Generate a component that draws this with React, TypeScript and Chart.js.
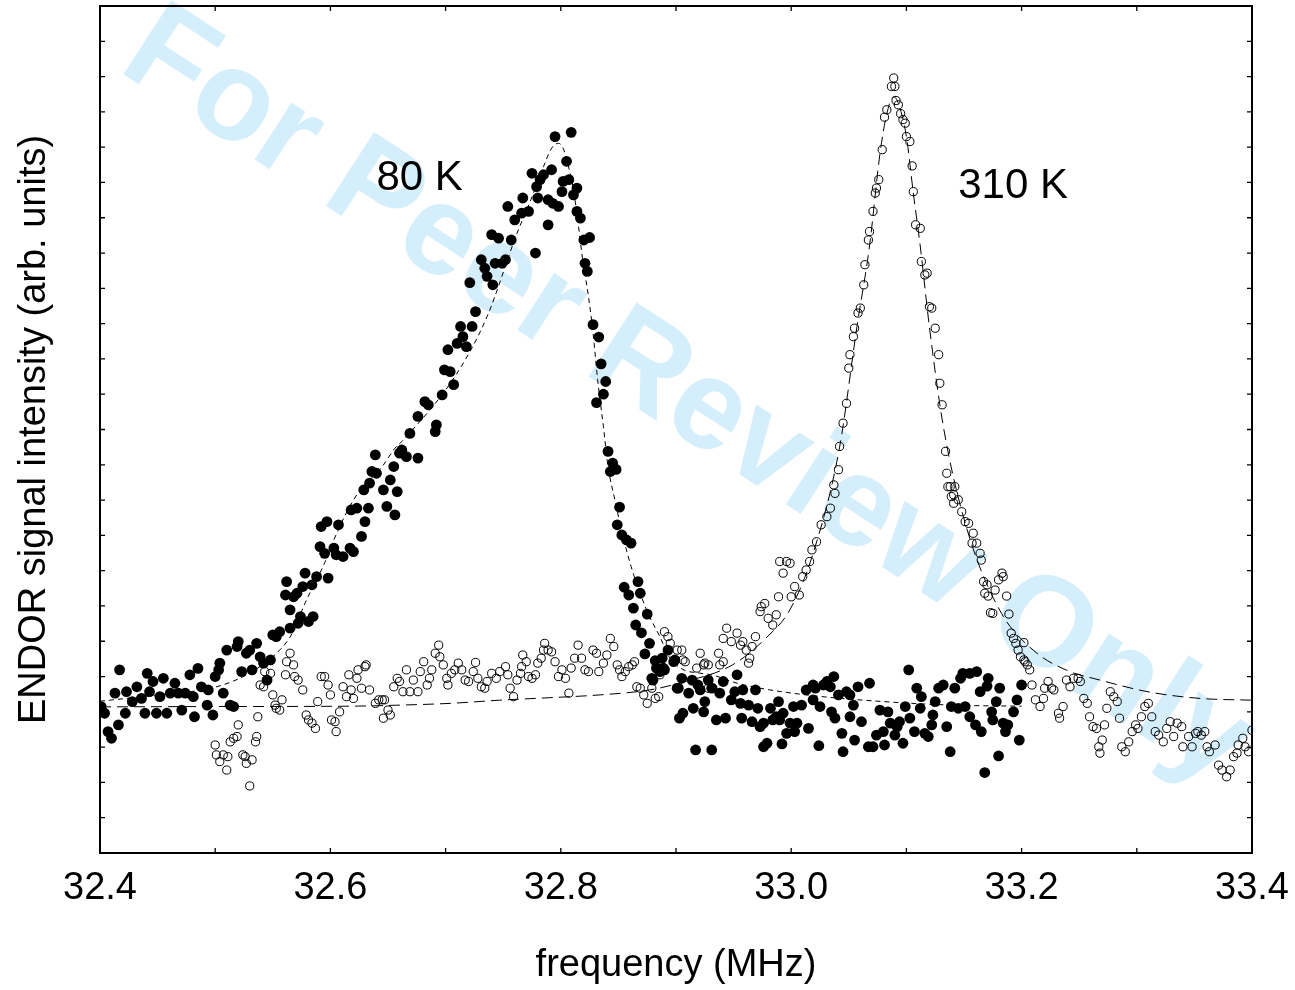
import React, { useEffect, useRef } from 'react';
import { Chart, registerables } from 'chart.js';

Chart.register(...registerables);

const FONT = '"Liberation Sans", Arial, Helvetica, sans-serif';

const xRange: [number, number] = [32.4, 33.4];
const yRange: [number, number] = [0, 24];
const xTickLabels = ['32.4', '32.6', '32.8', '33.0', '33.2', '33.4'];
const xTitle = 'frequency (MHz)';
const yTitle = 'ENDOR signal intensity (arb. units)';
const watermarkText = 'For Peer Review Only';

const annotations = [
  { text: '80 K', x: 32.64, y: 18.79 },
  { text: '310 K', x: 33.145, y: 18.57 },
];

// 80 K measured points (filled circles): [frequency MHz, intensity arb.]
const points80K: [number, number][] = [
  [32.401,4.15],[32.404,3.96],[32.407,3.44],[32.410,3.25],[32.413,4.53],[32.416,3.63],[32.417,5.19],[32.422,3.96],[32.423,4.57],[32.428,4.29],
  [32.432,4.71],[32.436,4.38],[32.439,3.96],[32.441,5.09],[32.443,4.57],[32.446,4.86],[32.449,3.96],[32.452,4.43],[32.455,4.95],[32.458,3.96],
  [32.461,4.53],[32.465,4.81],[32.468,4.53],[32.471,4.05],[32.474,4.53],[32.478,5.05],[32.481,4.43],[32.482,3.86],[32.485,5.23],[32.488,4.71],
  [32.493,4.19],[32.494,4.62],[32.498,3.91],[32.500,5.00],[32.503,5.19],[32.504,5.38],[32.507,4.53],[32.510,5.75],[32.513,4.19],[32.516,4.15],
  [32.519,5.85],[32.520,5.99],[32.523,5.14],[32.527,5.66],[32.530,5.75],[32.532,5.19],[32.536,5.94],[32.539,5.56],[32.542,5.38],[32.545,4.90],
  [32.548,5.47],[32.550,6.18],[32.553,6.13],[32.556,6.27],[32.561,7.31],[32.562,7.69],[32.565,6.89],[32.565,6.37],[32.568,7.26],[32.571,7.36],
  [32.572,6.51],[32.574,6.70],[32.576,7.55],[32.578,7.93],[32.581,6.56],[32.584,7.60],[32.585,6.70],[32.588,7.83],[32.591,8.68],[32.592,9.25],
  [32.595,8.49],[32.597,9.39],[32.598,7.79],[32.603,8.64],[32.605,8.45],[32.607,9.30],[32.611,8.40],[32.617,8.64],[32.618,9.72],[32.620,8.54],
  [32.623,9.77],[32.627,8.97],[32.629,10.29],[32.630,9.39],[32.633,9.77],[32.634,10.48],[32.636,10.81],[32.639,11.28],[32.640,10.76],[32.646,10.29],
  [32.649,9.82],[32.652,10.57],[32.655,10.95],[32.656,9.58],[32.658,10.24],[32.660,11.33],[32.662,11.42],[32.666,11.23],[32.669,11.89],[32.676,11.19],
  [32.676,12.37],[32.682,12.79],[32.685,12.70],[32.691,11.94],[32.692,12.13],[32.697,12.98],[32.699,13.69],[32.702,14.26],[32.704,13.64],[32.707,13.27],
  [32.710,14.44],[32.713,14.92],[32.715,14.63],[32.718,14.35],[32.721,16.16],[32.723,14.92],[32.726,15.34],[32.731,16.81],[32.734,16.57],[32.736,16.34],
  [32.740,17.52],[32.741,16.10],[32.743,16.71],[32.746,17.42],[32.749,16.71],[32.752,16.81],[32.754,18.32],[32.757,17.37],[32.760,17.94],[32.766,18.13],
  [32.767,18.56],[32.772,18.18],[32.775,19.26],[32.778,17.00],[32.779,18.88],[32.780,18.56],[32.782,19.08],[32.785,19.22],[32.789,18.51],[32.789,17.80],
  [32.792,19.36],[32.793,18.41],[32.795,20.30],[32.798,18.32],[32.801,18.74],[32.802,19.03],[32.805,19.60],[32.807,19.08],[32.809,20.42],[32.811,18.65],
  [32.814,18.84],[32.814,18.18],[32.817,17.99],[32.820,17.37],[32.825,17.44],[32.821,16.71],[32.823,16.48],[32.828,14.97],[32.833,14.62],[32.835,13.86],
  [32.839,13.36],[32.837,13.00],[32.831,12.76],[32.841,11.38],[32.845,11.05],[32.843,10.81],[32.848,10.87],[32.851,9.80],[32.849,9.30],[32.853,9.01],
  [32.857,8.87],[32.861,8.78],[32.867,7.69],[32.855,7.53],[32.859,7.31],[32.869,7.36],[32.863,6.94],[32.875,6.77],[32.865,6.46],[32.870,6.24],
  [32.877,5.94],[32.873,5.64],[32.882,5.45],[32.888,5.52],[32.893,5.75],[32.883,5.24],[32.889,5.24],[32.898,5.42],[32.879,4.95],[32.886,5.14],
  [32.901,4.67],[32.899,5.47],[32.880,4.90],[32.890,5.19],[32.905,4.95],[32.902,4.67],[32.911,4.53],[32.914,4.90],[32.919,4.76],[32.921,4.62],
  [32.928,4.90],[32.931,4.67],[32.938,4.53],[32.941,4.86],[32.953,5.05],[32.903,3.82],[32.906,3.96],[32.915,4.10],[32.925,4.29],[32.924,4.00],
  [32.935,3.77],[32.943,3.82],[32.948,4.34],[32.951,4.57],[32.956,4.24],[32.958,4.62],[32.963,4.19],[32.966,3.72],[32.969,4.62],[32.971,4.10],
  [32.976,3.68],[32.982,4.10],[32.984,3.77],[32.989,4.29],[32.990,3.77],[32.993,3.96],[32.999,3.68],[33.002,4.15],[32.996,3.39],[33.003,3.44],
  [32.976,3.01],[32.979,3.11],[32.992,3.09],[32.917,2.92],[32.931,2.92],[32.957,3.82],[32.973,3.58],[32.987,3.86],[33.005,3.68],[33.009,4.19],
  [33.013,4.62],[33.015,3.53],[33.019,4.34],[33.021,4.67],[33.024,3.04],[33.025,4.15],[33.028,4.76],[33.034,4.71],[33.037,5.00],[33.035,4.00],
  [33.038,3.82],[33.041,4.48],[33.044,3.39],[33.045,2.87],[33.048,4.57],[33.051,4.48],[33.051,3.86],[33.054,4.19],[33.055,3.20],[33.058,4.71],
  [33.061,3.72],[33.067,3.01],[33.068,4.81],[33.071,3.01],[33.074,3.34],[33.077,4.05],[33.080,3.44],[33.081,3.06],[33.084,4.00],[33.086,3.68],
  [33.090,3.34],[33.092,3.58],[33.094,3.72],[33.097,3.11],[33.099,4.15],[33.102,5.19],[33.103,3.82],[33.107,3.44],[33.109,4.67],[33.112,4.10],
  [33.113,4.43],[33.116,3.39],[33.119,3.30],[33.122,3.63],[33.123,3.91],[33.125,4.29],[33.128,4.67],[33.132,4.76],[33.135,3.58],[33.138,2.87],
  [33.139,4.15],[33.142,4.67],[33.145,4.10],[33.147,4.95],[33.151,4.15],[33.149,5.09],[33.155,3.86],[33.155,5.09],[33.160,3.63],[33.161,5.14],
  [33.164,4.57],[33.165,3.44],[33.168,2.28],[33.170,4.73],[33.171,4.95],[33.174,4.00],[33.175,3.77],[33.178,4.29],[33.180,2.75],[33.181,4.67],
  [33.184,3.68],[33.186,3.44],[33.188,3.63],[33.193,4.00],[33.196,4.34],[33.198,3.20],[33.200,4.76],[33.019,4.76],[33.031,4.86],
];

// 310 K measured points (open circles)
const points310K: [number, number][] = [
  [32.500,3.06],[32.501,2.78],[32.504,2.59],[32.507,2.78],[32.510,2.35],[32.511,2.73],[32.513,3.15],[32.516,3.25],[32.519,3.30],[32.520,3.63],
  [32.524,2.78],[32.526,2.73],[32.527,2.54],[32.530,1.90],[32.532,2.64],[32.535,3.15],[32.536,3.30],[32.537,3.86],[32.539,4.76],[32.542,4.71],
  [32.543,5.14],[32.548,5.09],[32.550,4.48],[32.552,4.19],[32.553,4.10],[32.556,4.05],[32.558,4.34],[32.561,5.05],[32.562,5.42],[32.565,5.66],
  [32.568,5.33],[32.569,5.00],[32.572,4.90],[32.576,4.62],[32.579,3.91],[32.581,3.77],[32.584,3.68],[32.587,3.53],[32.589,4.29],[32.592,5.00],
  [32.595,5.00],[32.598,4.76],[32.600,4.48],[32.601,3.77],[32.604,3.72],[32.605,3.44],[32.608,4.00],[32.611,4.71],[32.614,4.43],[32.616,5.05],
  [32.618,4.62],[32.620,4.38],[32.623,4.95],[32.624,5.19],[32.627,4.67],[32.630,5.28],[32.631,5.33],[32.634,4.62],[32.639,4.24],[32.642,4.34],
  [32.645,4.34],[32.647,4.34],[32.650,4.05],[32.652,3.91],[32.646,3.82],[32.655,4.71],[32.658,4.95],[32.660,4.86],[32.663,4.57],[32.666,5.19],
  [32.669,4.57],[32.672,4.90],[32.676,4.57],[32.678,5.14],[32.681,5.42],[32.684,4.76],[32.686,4.95],[32.688,5.19],[32.691,5.66],[32.694,5.89],
  [32.695,5.56],[32.698,5.33],[32.701,4.95],[32.702,4.76],[32.705,5.09],[32.708,5.19],[32.711,5.38],[32.714,5.19],[32.717,4.90],[32.720,4.86],
  [32.724,5.14],[32.726,5.40],[32.728,4.95],[32.731,4.71],[32.734,4.67],[32.736,4.86],[32.740,5.09],[32.744,4.95],[32.747,5.14],[32.752,5.28],
  [32.754,5.05],[32.756,4.67],[32.759,4.43],[32.762,4.90],[32.765,5.09],[32.766,5.28],[32.767,5.61],[32.770,5.42],[32.772,5.00],[32.775,4.95],
  [32.778,5.05],[32.780,5.38],[32.783,5.52],[32.785,5.75],[32.786,5.94],[32.789,5.75],[32.792,5.70],[32.795,5.42],[32.798,5.00],[32.801,5.19],
  [32.804,4.95],[32.807,4.53],[32.809,5.24],[32.812,5.52],[32.815,5.89],[32.818,5.52],[32.821,5.19],[32.824,5.14],[32.828,5.75],[32.831,5.66],
  [32.833,5.14],[32.837,5.38],[32.840,5.61],[32.843,6.08],[32.846,5.85],[32.849,5.33],[32.851,5.19],[32.853,5.00],[32.856,5.14],[32.859,5.28],
  [32.862,5.33],[32.864,5.42],[32.866,4.71],[32.869,4.67],[32.872,4.48],[32.875,4.24],[32.879,4.67],[32.882,4.38],[32.885,4.43],[32.886,5.05],
  [32.890,6.27],[32.893,6.13],[32.895,5.94],[32.901,5.75],[32.905,5.75],[32.906,5.47],[32.908,5.42],[32.918,5.24],[32.921,5.66],[32.924,5.33],
  [32.925,5.38],[32.928,5.33],[32.928,4.67],[32.932,4.67],[32.937,5.66],[32.938,5.33],[32.941,5.42],[32.941,6.08],[32.944,6.37],[32.948,5.99],
  [32.953,6.23],[32.956,5.89],[32.958,5.99],[32.961,5.75],[32.963,5.38],[32.964,5.52],[32.966,5.85],[32.969,6.13],[32.973,6.84],[32.974,6.98],
  [32.977,7.07],[32.980,6.65],[32.984,6.46],[32.987,6.75],[32.989,7.26],[32.990,8.26],[32.993,7.93],[32.996,8.26],[32.999,8.21],[33.000,7.26],
  [33.003,7.55],[33.007,7.31],[33.010,7.83],[33.013,8.02],[33.016,8.26],[33.018,8.59],[33.022,8.82],[33.026,9.30],[33.031,9.53],[33.034,9.77],
  [33.037,10.43],[33.038,10.19],[33.041,10.86],[33.042,11.52],[33.045,12.18],[33.048,12.74],[33.050,13.74],[33.051,14.12],[33.054,14.63],[33.055,14.87],
  [33.058,15.30],[33.060,15.44],[33.063,16.10],[33.064,16.67],[33.067,17.37],[33.068,17.61],[33.071,18.18],[33.073,18.70],[33.074,18.84],[33.076,19.08],
  [33.079,19.93],[33.081,20.85],[33.083,21.06],[33.087,21.72],[33.089,21.96],[33.090,21.72],[33.091,21.32],[33.093,21.20],[33.095,20.95],[33.097,20.78],
  [33.099,20.68],[33.100,20.30],[33.103,20.16],[33.105,19.47],[33.106,18.74],[33.108,17.80],[33.112,17.70],[33.113,16.76],[33.116,16.38],[33.118,16.43],
  [33.120,15.48],[33.122,15.44],[33.125,14.87],[33.128,14.12],[33.129,13.31],[33.131,12.70],[33.134,11.38],[33.135,10.76],[33.136,10.38],[33.138,10.38],
  [33.139,10.10],[33.141,10.15],[33.142,10.38],[33.145,10.01],[33.141,9.91],[33.148,9.67],[33.151,9.39],[33.154,9.34],[33.158,9.06],[33.157,8.78],
  [33.161,8.78],[33.164,8.49],[33.165,8.30],[33.167,7.69],[33.170,7.60],[33.168,7.36],[33.171,7.28],[33.177,7.45],[33.180,7.74],[33.183,7.93],
  [33.184,7.83],[33.187,7.28],[33.173,6.81],[33.175,6.79],[33.189,6.77],[33.191,6.23],[33.193,6.08],[33.195,5.94],[33.202,5.96],[33.197,5.75],
  [33.199,5.56],[33.202,5.47],[33.203,5.42],[33.205,5.33],[33.207,5.19],[33.209,4.76],[33.212,4.34],[33.216,4.15],[33.219,4.38],[33.220,4.67],
  [33.223,4.86],[33.226,4.67],[33.228,4.62],[33.232,3.96],[33.233,3.82],[33.236,4.15],[33.239,4.90],[33.242,4.71],[33.245,4.95],[33.249,4.95],
  [33.251,4.86],[33.254,4.38],[33.257,4.24],[33.259,3.86],[33.262,3.58],[33.265,3.53],[33.267,3.01],[33.268,2.83],[33.270,3.20],[33.272,3.63],
  [33.274,4.10],[33.277,4.57],[33.280,4.43],[33.283,4.29],[33.285,3.82],[33.287,3.01],[33.290,2.87],[33.293,3.15],[33.296,3.44],[33.299,3.63],
  [33.301,3.53],[33.304,3.86],[33.307,4.15],[33.310,4.24],[33.313,3.86],[33.316,3.44],[33.319,3.34],[33.323,3.15],[33.326,3.53],[33.329,3.72],
  [33.332,3.30],[33.335,3.68],[33.339,3.58],[33.340,3.01],[33.345,3.30],[33.348,3.01],[33.351,3.39],[33.353,3.44],[33.356,3.34],[33.359,3.44],
  [33.361,3.01],[33.363,2.87],[33.368,3.06],[33.371,2.49],[33.374,2.35],[33.378,2.16],[33.381,2.35],[33.384,2.73],[33.387,2.83],[33.388,3.06],
  [33.392,3.25],[33.394,3.01],[33.397,2.87],[33.400,3.48],
];

// Fitted curves
const fit80K: [number, number][] = [
  [32.400,4.30],[32.450,4.48],[32.500,4.70],[32.530,5.10],[32.556,5.75],[32.567,6.23],[32.578,7.08],[32.595,8.22],[32.603,8.87],[32.612,9.52],
  [32.624,10.20],[32.645,10.95],[32.656,11.47],[32.662,11.66],[32.710,13.60],[32.736,15.20],[32.762,17.56],[32.774,18.51],[32.785,19.45],[32.792,19.97],
  [32.798,20.11],[32.802,19.97],[32.806,19.54],[32.811,18.79],[32.815,17.85],[32.819,16.81],[32.824,15.77],[32.828,14.73],[32.832,13.41],[32.837,12.08],
  [32.841,10.95],[32.847,10.00],[32.854,8.97],[32.861,8.12],[32.870,7.26],[32.877,6.70],[32.886,6.13],[32.894,5.56],[32.906,5.20],[32.920,5.10],
  [32.932,5.04],[32.950,4.84],[32.973,4.67],[33.013,4.48],[33.080,4.29],[33.140,4.19],[33.200,4.16],
];

const fit310K: [number, number][] = [
  [32.400,4.14],[32.500,4.15],[32.617,4.16],[32.660,4.19],[32.704,4.24],[32.747,4.33],[32.790,4.40],[32.834,4.48],[32.877,4.62],[32.906,4.84],
  [32.949,5.33],[32.979,6.12],[32.999,6.90],[33.019,8.49],[33.042,11.50],[33.057,14.90],[33.068,17.20],[33.077,19.80],[33.083,20.95],[33.089,21.43],
  [33.094,21.15],[33.100,20.30],[33.106,18.70],[33.112,17.20],[33.120,14.90],[33.132,12.10],[33.152,9.24],[33.181,6.88],[33.210,5.75],[33.239,5.18],
  [33.268,4.90],[33.311,4.56],[33.355,4.38],[33.400,4.33],
];

const toXY = (arr: [number, number][]) => arr.map(([x, y]) => ({ x, y }));

const frameTicksPlugin = {
  id: 'frameTicks',
  afterDatasetsDraw(chart: any) {
    const { ctx, chartArea, scales } = chart;
    const { left, right, top, bottom } = chartArea;
    const xs = scales.x;
    const ys = scales.y;
    ctx.save();
    ctx.strokeStyle = '#000';
    ctx.lineWidth = 1.3;
    ctx.beginPath();
    xs.ticks.forEach((t: any) => {
      const p = xs.getPixelForValue(t.value);
      if (p <= left + 1 || p >= right - 1) return;
      ctx.moveTo(p, bottom);
      ctx.lineTo(p, bottom - 5);
      ctx.moveTo(p, top);
      ctx.lineTo(p, top + 5);
    });
    ys.ticks.forEach((t: any) => {
      const p = ys.getPixelForValue(t.value);
      if (p <= top + 1 || p >= bottom - 1) return;
      ctx.moveTo(left, p);
      ctx.lineTo(left + 5, p);
      ctx.moveTo(right, p);
      ctx.lineTo(right - 5, p);
    });
    ctx.stroke();
    ctx.lineWidth = 2;
    ctx.strokeRect(left, top, right - left, bottom - top);
    ctx.fillStyle = '#000';
    ctx.font = `42px ${FONT}`;
    ctx.textAlign = 'left';
    ctx.textBaseline = 'alphabetic';
    annotations.forEach((a) => {
      ctx.fillText(a.text, xs.getPixelForValue(a.x), ys.getPixelForValue(a.y));
    });
    ctx.restore();
  },
};

export default function App() {
  const ref = useRef<HTMLCanvasElement>(null);

  useEffect(() => {
    if (!ref.current) return;
    Chart.defaults.font.family = FONT;
    Chart.defaults.color = '#000';
    const chart = new Chart(ref.current, {
      type: 'scatter',
      data: {
        datasets: [
          {
            label: 'fit 80 K',
            data: toXY(fit80K),
            showLine: true,
            borderColor: '#000',
            borderWidth: 1,
            borderDash: [5, 4],
            pointRadius: 0,
            cubicInterpolationMode: 'monotone',
            order: 0,
          } as any,
          {
            label: 'fit 310 K',
            data: toXY(fit310K),
            showLine: true,
            borderColor: '#000',
            borderWidth: 1,
            borderDash: [11, 6],
            pointRadius: 0,
            cubicInterpolationMode: 'monotone',
            order: 1,
          } as any,
          {
            label: '80 K',
            data: toXY(points80K),
            pointRadius: 5.4,
            pointBackgroundColor: '#000',
            pointBorderColor: '#000',
            pointBorderWidth: 0,
            showLine: false,
            order: 2,
          } as any,
          {
            label: '310 K',
            data: toXY(points310K),
            pointRadius: 4.1,
            pointBackgroundColor: 'rgba(0,0,0,0)',
            pointBorderColor: '#000',
            pointBorderWidth: 1,
            showLine: false,
            order: 3,
          } as any,
        ],
      },
      options: {
        animation: false,
        responsive: false,
        maintainAspectRatio: false,
        layout: { padding: { top: 6, right: 43, left: 0, bottom: 0 } },
        plugins: { legend: { display: false }, tooltip: { enabled: false } },
        events: [],
        scales: {
          x: {
            type: 'linear',
            position: 'bottom',
            min: xRange[0],
            max: xRange[1],
            grid: { display: false, drawTicks: false },
            border: { display: false },
            ticks: {
              stepSize: 0.1,
              autoSkip: false,
              maxRotation: 0,
              minRotation: 0,
              padding: 13,
              font: { size: 38, family: FONT },
              color: '#000',
              callback: (v: any) => {
                const s = Number(v).toFixed(1);
                return xTickLabels.includes(s) ? s : '';
              },
            },
            title: {
              display: true,
              text: xTitle,
              font: { size: 38, family: FONT },
              color: '#000',
              padding: { top: 0, bottom: 2 },
            },
            afterFit: (scale: any) => {
              scale.height = 137;
              scale.paddingLeft = 0;
              scale.paddingRight = 0;
            },
          },
          y: {
            type: 'linear',
            position: 'left',
            min: yRange[0],
            max: yRange[1],
            grid: { display: false, drawTicks: false },
            border: { display: false },
            ticks: { display: false, stepSize: 1 },
            title: {
              display: true,
              text: yTitle,
              font: { size: 38, family: FONT },
              color: '#000',
              padding: { top: 12, bottom: 0 },
            },
            afterFit: (scale: any) => {
              scale.width = 100;
              scale.paddingTop = 0;
              scale.paddingBottom = 0;
            },
          },
        },
      },
      plugins: [frameTicksPlugin],
    } as any);
    return () => chart.destroy();
  }, []);

  return (
    <div style={{ position: 'absolute', left: 0, top: 0, width: 1295, height: 990, overflow: 'hidden', background: '#fff' }}>
      <div
        style={{
          position: 'absolute',
          left: 692,
          top: 391,
          transform: 'translate(-50%, -50%) rotate(33deg)',
          fontFamily: FONT,
          fontWeight: 'bold',
          fontSize: 128,
          lineHeight: 1,
          color: 'rgb(212,239,251)',
          whiteSpace: 'nowrap',
          zIndex: 0,
        }}
      >
        {watermarkText}
      </div>
      <canvas
        ref={ref}
        width={1295}
        height={990}
        style={{ position: 'absolute', left: 0, top: 0, width: 1295, height: 990, zIndex: 1 }}
      />
    </div>
  );
}
